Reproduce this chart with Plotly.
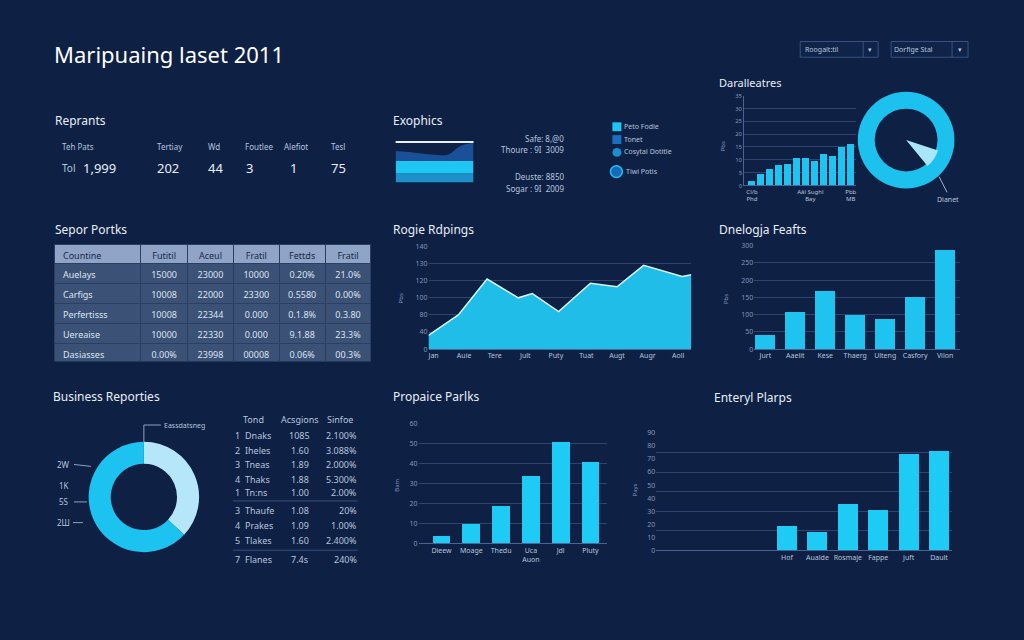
import plotly.graph_objects as go

W, H = 1024, 640
BG = '#0e2044'
CYAN = '#1fc3ef'
GRID = '#2e466f'
AXL = '#4a6392'
TXT = '#e8eef8'
SUB = '#b7c5dd'
TICK = '#8396bb'
FONT = 'Noto Sans'

# ---------------- data ----------------
title_text = "Maripuaing laset 2011"
kpi_labels = ["Teh Pats", "Tertiay", "Wd", "Foutlee", "Alefiot", "Tesl"]
kpi_values = ["1,999", "202", "44", "3", "1", "75"]

exo_x = [0, 1, 2, 3, 4, 5, 6]
exo_band1 = [9, 9, 9, 9, 9, 9, 9]
exo_band2 = [22, 22, 22, 22, 22, 22, 22]
exo_top = [32, 31, 29.5, 28, 28, 37, 40]
exo_lines = ["Safe: 8,@0", "Thoure : 9I  3009", "Deuste: 8850", "Sogar : 9I  2009"]
exo_legend = ["Peto Fodie", "Tonet", "Cosytal Dotitle", "Tiwi Potis"]

dar_values = [1.8, 4.3, 6.5, 8.1, 8.3, 10.7, 10.8, 9.7, 12.4, 11.3, 15.1, 16.0]
dar_ticks = [0, 5, 10, 15, 20, 25, 30, 35]
dar_xlabels = ["Cl/b<br>Phd", "Aâl Sughl<br>Bay", "Pbb<br>MB"]
dar_xlabel_pos = [0, 6.5, 11]

ring_values = [100]
wedge_values = [9, 91]

tbl_header = ["Countine", "Futitil", "Aceul", "Fratil", "Fettds", "Fratil"]
tbl_col0 = ["Auelays", "Carfigs", "Perfertisss", "Uereaise", "Dasiasses"]
tbl_col1 = ["15000", "10008", "10008", "10000", "0.00%"]
tbl_col2 = ["23000", "22000", "22344", "22330", "23998"]
tbl_col3 = ["10000", "23300", "0.000", "0.000", "00008"]
tbl_col4 = ["0.20%", "0.5580", "0.1.8%", "9.1.88", "0.06%"]
tbl_col5 = ["21.0%", "0.00%", "0.3.80", "23.3%", "00.3%"]

area_x = [-0.17, 0.81, 1.75, 2.77, 3.23, 4.09, 5.13, 6.0, 6.87, 8.13, 8.43]
area_y = [16, 40, 82, 60, 65, 44, 77, 73, 98, 85, 87]
area_labels = ["Jan", "Auie", "Tere", "Jult", "Puty", "Tuat", "Augt", "Augr", "Aoll"]
area_ticktext = ["0", "40", "80", "100", "120", "130", "140"]

ogja_labels = ["Jurt", "Aaelit", "Kese", "Thaerg", "Ulteng", "Casfory", "Vilon"]
ogja_values = [42, 107, 167, 98, 88, 150, 287]

biz_values = [37, 63]
biz_left_labels = ["2W", "1K", "5S", "2Ш"]
biz_top_label = "Eassdatsneg"
biz_head = ["Tond", "Acsgions", "Sinfoe"]
biz_num = ["1", "2", "3", "4", "1", "3", "4", "5", "7"]
biz_name = ["Dnaks", "Iheles", "Tneas", "Thaks", "Tn:ns", "Thaufe", "Prakes", "Tlakes", "Flanes"]
biz_acq = ["1085", "1.60", "1.89", "1.88", "1.00", "1.08", "1.09", "1.60", "7.4s"]
biz_pct = ["2.100%", "3.088%", "2.000%", "5.300%", "2.00%", "20%", "1.00%", "2.400%", "240%"]

prop_labels = ["Dieew", "Moage", "Thedu", "Uca<br>Auon", "Jdl", "Pluty"]
prop_values = [3.5, 9.8, 19, 34, 51, 41]

ent_labels = ["Hof", "Aualde", "Rosmaje", "Fappe", "Juft", "Dault"]
ent_values = [18.7, 13.6, 35.8, 31.2, 74.1, 76.2]


# ---------------- helpers ----------------
def X(x):
    return x / W


def Y(y):
    return 1 - y / H


def dx(a, b):
    return [a / W, b / W]


def dy(top, bottom):
    return [1 - bottom / H, 1 - top / H]


annotations = []
shapes = []


def text(x, y, s, size=9, color=SUB, anchor='left', angle=0, family=FONT):
    off = {'left': -3, 'right': 3, 'center': 0}[anchor]
    annotations.append(dict(x=X(x + off), y=Y(y), xref='paper', yref='paper', text=s,
                            showarrow=False, xanchor=anchor, yanchor='middle',
                            textangle=angle,
                            font=dict(size=size, color=color, family=family)))


def line(x0, y0, x1, y1, color=AXL, width=1):
    shapes.append(dict(type='line', xref='paper', yref='paper', x0=X(x0), y0=Y(y0),
                       x1=X(x1), y1=Y(y1), line=dict(color=color, width=width)))


def rect(x0, y0, x1, y1, fill, lc=None, lw=0, kind='rect'):
    shapes.append(dict(type=kind, xref='paper', yref='paper', x0=X(x0), y0=Y(y1),
                       x1=X(x1), y1=Y(y0), fillcolor=fill,
                       line=dict(color=lc or fill, width=lw)))


fig = go.Figure()

# ---------------- title / dropdowns ----------------
text(54, 50, title_text, size=22, color='#ffffff')
rect(800, 37, 878, 53, '#0f2448', '#3a5280', 1)
line(863, 37, 863, 53, '#3a5280')
text(806, 45, "Roogalt:til", size=7, color=SUB)
text(870, 45, "▾", size=7, color=SUB, anchor='center')
rect(891, 37, 968, 53, '#0f2448', '#3a5280', 1)
line(952, 37, 952, 53, '#3a5280')
text(895, 45, "Dorfige Stal", size=7, color=SUB)
text(960, 45, "▾", size=7, color=SUB, anchor='center')

# ---------------- KPI ----------------
text(55, 117, "Reprants", size=12, color=TXT)
kpi_lx = [62, 157, 208, 245, 284, 331]
kpi_vx = [83, 157, 208, 246, 290, 331]
for lx, lab in zip(kpi_lx, kpi_labels):
    text(lx, 144, lab, size=8, color=SUB)
text(62, 165, "Tol", size=10, color=SUB)
for vx, v in zip(kpi_vx, kpi_values):
    text(vx, 165, v, size=13, color=TXT)

# ---------------- Exophics ----------------
text(393, 117, "Exophics", size=12, color=TXT)
line(395, 139, 473, 139, '#e6eefa', 2)
fig.add_trace(go.Scatter(x=exo_x, y=exo_band1, mode='lines', line=dict(width=0),
                         fill='tozeroy', fillcolor='#1d90c9', xaxis='x', yaxis='y',
                         hoverinfo='skip'))
fig.add_trace(go.Scatter(x=exo_x, y=exo_band2, mode='lines', line=dict(width=0),
                         fill='tonexty', fillcolor='#1ec6f1', xaxis='x', yaxis='y',
                         hoverinfo='skip'))
fig.add_trace(go.Scatter(x=exo_x, y=exo_top, mode='lines', line=dict(width=0, shape='spline'),
                         fill='tonexty', fillcolor='#1b4f98', xaxis='x', yaxis='y',
                         hoverinfo='skip'))
for yy, s in zip([135, 147, 174, 186], exo_lines):
    text(563, yy, s, size=8, color=SUB, anchor='right')
rect(612, 119, 621, 128, '#1ec5f0')
rect(612, 132, 621, 141, '#1c6fc0')
rect(612, 145, 621, 154, '#1a8fd0', kind='circle')
rect(610, 163, 622, 175, '#1569b5', '#22c0f0', 1.5, kind='circle')
text(625, 123, exo_legend[0], size=7)
text(625, 136, exo_legend[1], size=7)
text(625, 149, exo_legend[2], size=7)
text(627, 169, exo_legend[3], size=7)

# ---------------- Daralleatres bars ----------------
text(720, 79, "Daralleatres", size=11, color=TXT)
fig.add_trace(go.Bar(x=list(range(len(dar_values))), y=dar_values, width=0.78,
                     marker=dict(color=CYAN, line=dict(width=0)), xaxis='x2', yaxis='y2'))
text(723, 143, "Pbs", size=6, color=TICK, anchor='center', angle=-90)

# top-right ring
fig.add_trace(go.Pie(values=ring_values, hole=0.65, sort=False, textinfo='none',
                     marker=dict(colors=['#1dc1ee'], line=dict(width=0)),
                     domain=dict(x=dx(857, 955), y=dy(88, 186)), hoverinfo='skip'))
fig.add_trace(go.Pie(values=wedge_values, sort=False, textinfo='none', direction='clockwise',
                     rotation=108,
                     marker=dict(colors=['#a9e6fa', 'rgba(0,0,0,0)'], line=dict(width=0)),
                     domain=dict(x=dx(872, 940), y=dy(103, 171)), hoverinfo='skip'))
line(939, 174, 947, 190, '#9fb3d2')
text(948, 197, "Dianet", size=7, color=SUB, anchor='center')

# ---------------- table ----------------
text(55, 228, "Sepor Portks", size=12, color=TXT)
fig.add_trace(go.Table(
    domain=dict(x=dx(54, 371), y=dy(243, 362)),
    columnwidth=[86, 47, 46, 46, 46, 46],
    header=dict(values=tbl_header, fill_color='#8fa4c7', height=19,
                line=dict(color='#2b3f65', width=1),
                align=['left', 'center', 'center', 'center', 'center', 'center'],
                font=dict(color='#17284a', size=9, family=FONT)),
    cells=dict(values=[tbl_col0, tbl_col1, tbl_col2, tbl_col3, tbl_col4, tbl_col5],
               fill_color='#3c5176', height=20,
               line=dict(color='#2b3f65', width=1),
               align=['left', 'center', 'center', 'center', 'center', 'center'],
               font=dict(color='#dbe4f2', size=9, family=FONT))))

# ---------------- area chart ----------------
text(393, 228, "Rogie Rdpings", size=12, color=TXT)
fig.add_trace(go.Scatter(x=area_x, y=area_y, mode='lines', fill='tozeroy',
                         fillcolor='#1fbde8', line=dict(color='#d8f3ff', width=1.5),
                         xaxis='x3', yaxis='y3'))
text(400, 298, "Pbs", size=6, color=TICK, anchor='center', angle=-90)

# ---------------- Dnelogja bars ----------------
text(720, 228, "Dnelogja Feafts", size=12, color=TXT)
fig.add_trace(go.Bar(x=list(range(len(ogja_values))), y=ogja_values, width=0.67,
                     marker=dict(color=CYAN, line=dict(width=0)), xaxis='x4', yaxis='y4'))
text(726, 298, "Pbs", size=6, color=TICK, anchor='center', angle=-90)

# ---------------- Business donut ----------------
text(53, 397, "Business Reporties", size=12, color=TXT)
fig.add_trace(go.Pie(values=biz_values, hole=0.6, sort=False, direction='clockwise',
                     rotation=0, textinfo='none',
                     marker=dict(colors=['#b5e6fa', '#1cc3f0'], line=dict(width=0)),
                     domain=dict(x=dx(87, 199), y=dy(443, 555)), hoverinfo='skip'))
for yy, s in zip([466, 487, 504, 525], biz_left_labels):
    text(63, yy, s, size=8, color=SUB, anchor='center')
line(73, 466, 90, 468, '#8ea2c4')
line(73, 504, 86, 504, '#8ea2c4')
line(72, 525, 82, 525, '#8ea2c4')
line(143, 443, 143, 426, '#8ea2c4')
line(143, 426, 160, 426, '#8ea2c4')
text(164, 426, biz_top_label, size=7, color=SUB)

text(253, 420, biz_head[0], size=9, color=SUB, anchor='center')
text(299, 420, biz_head[1], size=9, color=SUB, anchor='center')
text(339, 420, biz_head[2], size=9, color=SUB, anchor='center')
row_y = [437, 452, 466, 481, 494, 513, 528, 543, 562]
for yy, n, nm, a, p in zip(row_y, biz_num, biz_name, biz_acq, biz_pct):
    text(237, yy, n, size=9, color=SUB, anchor='center')
    text(245, yy, nm, size=9, color=SUB)
    text(299, yy, a, size=9, color=SUB, anchor='center')
    text(355, yy, p, size=9, color=SUB, anchor='right')
line(232, 503, 357, 503, '#34507c')
line(232, 553, 357, 553, '#34507c')

# ---------------- Propaice bars ----------------
text(393, 397, "Propaice Parlks", size=12, color=TXT)
fig.add_trace(go.Bar(x=list(range(len(prop_values))), y=prop_values, width=0.6,
                     marker=dict(color='#1ecbf5', line=dict(width=0)), xaxis='x5', yaxis='y5'))
text(397, 487, "Bam", size=6, color=TICK, anchor='center', angle=-90)

# ---------------- Enteryl bars ----------------
text(753, 398, "Enteryl Plarps", size=12, color=TXT, anchor='center')
fig.add_trace(go.Bar(x=list(range(len(ent_values))), y=ent_values, width=0.66,
                     marker=dict(color='#1ecbf5', line=dict(width=0)), xaxis='x6', yaxis='y6'))
# invisible companion so the label axis (y7) is drawn
fig.add_trace(go.Scatter(x=[0], y=[0], mode='markers', marker=dict(opacity=0),
                         xaxis='x6', yaxis='y7', hoverinfo='skip'))
text(635, 492, "Pays", size=6, color=TICK, anchor='center', angle=-90)

# ---------------- axes ----------------
tickf = dict(size=7, color=TICK, family=FONT)
xtf = dict(size=7, color=SUB, family=FONT)


def yax(dom, rng, dtick=None, tickvals=None, ticktext=None, anchor='x', grid=True, labels=True):
    d = dict(domain=dy(*dom), range=rng, anchor=anchor, showgrid=grid, gridcolor=GRID,
             gridwidth=1, zeroline=False, showline=False, ticks='', tickfont=tickf,
             fixedrange=True, showticklabels=labels)
    if dtick is not None:
        d['dtick'] = dtick
        d['tick0'] = 0
    if tickvals is not None:
        d['tickmode'] = 'array'
        d['tickvals'] = tickvals
        d['ticktext'] = ticktext if ticktext is not None else [str(v) for v in tickvals]
    return d


def xax(dom, rng, anchor, tickvals=None, ticktext=None, visible=True, size=7):
    d = dict(domain=dx(*dom), range=rng, anchor=anchor, showgrid=False, zeroline=False,
             showline=visible, linecolor=AXL, linewidth=1, ticks='',
             tickfont=dict(xtf, size=size), tickangle=0,
             fixedrange=True, visible=visible)
    if tickvals is not None:
        d['tickmode'] = 'array'
        d['tickvals'] = tickvals
        d['ticktext'] = ticktext
    return d


fig.update_layout(
    xaxis=xax((395, 473), [0, 6], 'y', visible=False),
    yaxis=dict(domain=dy(139, 180), range=[0, 41], visible=False, anchor='x', fixedrange=True),
    xaxis2=xax((744, 856), [-0.86, 11.6], 'y2', dar_xlabel_pos, dar_xlabels, size=6),
    yaxis2=dict(yax((92, 183), [0, 35], tickvals=dar_ticks, anchor='x2'),
                showline=True, linecolor=AXL, tickfont=dict(tickf, size=6)),
    xaxis3=xax((428, 691), [-0.163, 8.43], 'y3', list(range(len(area_labels))), area_labels),
    yaxis3=yax((245, 349), [0, 120], tickvals=[0, 20, 40, 60, 80, 100, 120],
               ticktext=area_ticktext, anchor='x3'),
    xaxis4=xax((754, 960), [-0.37, 6.5], 'y4', list(range(len(ogja_labels))), ogja_labels),
    yaxis4=yax((244, 349), [0, 300], dtick=50, anchor='x4'),
    xaxis5=xax((418, 607), [-0.77, 5.57], 'y5', list(range(len(prop_labels))), prop_labels),
    yaxis5=yax((425, 546), [0, 60], dtick=10, anchor='x5'),
    xaxis6=xax((656, 952), [-4.3, 5.43], 'y6', list(range(len(ent_labels))), ent_labels),
    yaxis6=yax((434, 553), [0, 90], dtick=15, anchor='x6', labels=False),
    yaxis7=dict(yax((434, 553), [0, 90], dtick=10, anchor='x6', grid=False),
                overlaying='y6', side='left'),
    width=W, height=H, autosize=False,
    margin=dict(l=0, r=0, t=0, b=0),
    paper_bgcolor=BG, plot_bgcolor='rgba(0,0,0,0)',
    showlegend=False, bargap=0,
    font=dict(family=FONT, color=SUB),
    annotations=annotations, shapes=shapes,
)

fig.write_html("out.html", config={'displayModeBar': False, 'staticPlot': True},
               post_script="document.body.style.margin='0';document.body.style.background='%s';" % BG)
